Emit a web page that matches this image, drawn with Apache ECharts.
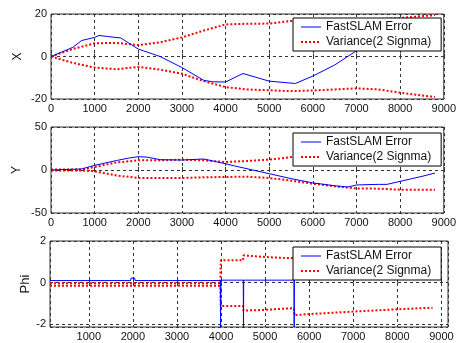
<!DOCTYPE html>
<html><head><meta charset="utf-8">
<script src="https://cdn.jsdelivr.net/npm/echarts@6/dist/echarts.min.js"></script>
<style>html,body{margin:0;padding:0;background:#fff}#c{width:459px;height:343px}</style>
</head><body><div id="c"></div>
<script>
const seriesNames = ['FastSLAM Error', 'Variance(2 Signma)'];
const axisNames = ['X', 'Y', 'Phi'];

// Panel 1 (X)
const xErrT = [0, 500, 700, 1000, 1100, 1300, 1600, 2000, 2500, 3000, 3500, 3700, 4000, 4100, 4400, 5000, 5600, 6000, 6500, 7000, 7500, 8000, 8800];
const xErr  = [0, 4.3, 7.5, 9, 9.9, 9.4, 8.7, 3.5, 0, -5.2, -11.2, -11.9, -12, -11, -8, -11.6, -12.7, -9.2, -4, 2.7, 6, 9, 12];
const xVarT = [0, 500, 1000, 1500, 2000, 2500, 3000, 3500, 4000, 4500, 5000, 5500, 6000, 6500, 7000, 7500, 8000, 8500, 8800];
const xVarUp = [0, 3.5, 6.2, 6.4, 5.4, 6.7, 9, 12.2, 15.1, 15.4, 15.5, 16.7, 17, 17.2, 17.4, 17.6, 18.1, 19, 19.4];
const xVarLo = [0, -3, -5.2, -6, -4.9, -6.2, -8.1, -11.6, -14.4, -15.5, -15.9, -16.3, -16, -15.5, -15, -15.5, -17, -18.4, -19];

// Panel 2 (Y)
const yErrT = [0, 700, 1000, 1500, 1800, 2000, 2200, 2500, 3000, 3500, 4000, 4200, 5000, 5500, 6000, 6500, 6800, 7000, 7500, 7700, 8000, 8500, 8800];
const yErr  = [0, 1.2, 5.4, 11, 14, 15.5, 15, 12, 11.6, 12.8, 7.3, 4.8, -4.3, -10, -15, -18.3, -19.8, -17.4, -16.7, -16.7, -13.2, -7.4, -3.5];
const yVarT = [0, 700, 1000, 1500, 2000, 2500, 3000, 3500, 4000, 4500, 5000, 5500, 6000, 6500, 7000, 7500, 8000, 8500, 8800];
const yVarUp = [0.5, 0.5, 3.5, 8.8, 11.2, 11.2, 12, 11.2, 9.3, 10.5, 12, 15, 17, 18, 19, 20, 21, 22, 22.5];
const yVarLo = [-0.5, -0.5, -1.6, -6.3, -9.3, -9.3, -9.3, -8.5, -8.1, -7.8, -9.3, -12.4, -16, -19, -21.4, -21.7, -22.9, -22.9, -22.9];

// Panel 3 (Phi)
const phiErrT = [120, 1950, 1960, 2040, 2050, 3985, 3990, 3995, 4505, 4510, 4515, 5655, 5660, 5665, 8800];
const phiErr  = [0.1, 0.1, 0.22, 0.22, 0.1, 0.1, -2.13, 0.12, 0.12, -2.13, 0.12, 0.12, -2.13, 0.17, 0.17];
const phiVarT = [120, 1000, 2000, 3000, 3985, 3995, 4500, 4510, 5000, 5500, 5655, 5665, 6000, 7000, 8000, 8800];
const phiVarUp = [-0.03, -0.03, -0.03, -0.03, -0.03, 1.07, 1.07, 1.31, 1.23, 1.18, 1.18, 1.5, 1.5, 1.45, 1.4, 1.35];
const phiVarLo = [-0.15, -0.15, -0.15, -0.15, -0.15, -1.12, -1.12, -1.34, -1.31, -1.24, -1.23, -1.56, -1.51, -1.39, -1.28, -1.2];

const pairs = (xs, ys) => xs.map((x, i) => [x, ys[i]]);
const FONT = 'Liberation Sans, Arial, sans-serif';
const BORDER = '#333';

const grids = [
  {left: 51, right: 11, top: 14, height: 85},
  {left: 51, right: 11, top: 127, height: 86},
  {left: 50, right: 11, top: 241, height: 86}
].map(g => Object.assign({show: true, borderColor: BORDER, borderWidth: 1, backgroundColor: '#fff', containLabel: false}, g));

const splitLine = {show: true, lineStyle: {color: '#333', type: [3, 3], width: 1}};
const axisLabel = {color: '#111', fontSize: 11, fontFamily: FONT, margin: 4, formatter: v => String(v)};

function xAxis(i, extra) {
  return Object.assign({
    type: 'value', gridIndex: i,
    axisLine: {show: false},
    axisTick: {show: true, inside: true, length: 3, lineStyle: {color: BORDER}},
    splitLine: splitLine,
    axisLabel: axisLabel
  }, extra);
}
function yAxis(i, extra) {
  return Object.assign({
    type: 'value', gridIndex: i,
    name: axisNames[i], nameLocation: 'middle', nameRotate: 90, nameMoveOverlap: false,
    nameTextStyle: {color: '#111', fontSize: i === 2 ? 13 : 12, fontFamily: FONT},
    axisLine: {show: false},
    axisTick: {show: true, inside: true, length: 3, lineStyle: {color: BORDER}},
    splitLine: splitLine,
    axisLabel: axisLabel
  }, extra);
}

function errSeries(i, xs, ys) {
  return {type: 'line', name: seriesNames[0], xAxisIndex: i, yAxisIndex: i, data: pairs(xs, ys),
    symbol: 'none', color: '#0000ff', lineStyle: {color: '#0000ff', width: 1}, z: 3};
}
function varSeries(i, xs, ys) {
  return {type: 'line', name: seriesNames[1], xAxisIndex: i, yAxisIndex: i, data: pairs(xs, ys),
    symbol: 'none', color: '#ff0000', lineStyle: {color: '#ff0000', width: 2, type: [2, 2]}, z: 2};
}
const hiddenSym = {color: 'rgba(0,0,0,0)', borderWidth: 0, opacity: 0};
function legend(top) {
  return {
    left: 293, top: top, orient: 'vertical', selectedMode: false,
    itemWidth: 20, itemHeight: 12, itemGap: 3, padding: [3, 10, 3, 7],
    backgroundColor: '#fff', borderColor: '#000', borderWidth: 1, borderRadius: 0,
    textStyle: {color: '#111', fontSize: 12, fontFamily: FONT},
    data: [
      {name: seriesNames[0], itemStyle: hiddenSym, lineStyle: {width: 1, color: '#0000ff', opacity: 1}},
      {name: seriesNames[1], itemStyle: hiddenSym, lineStyle: {width: 2, color: '#ff0000', type: [2, 2], opacity: 1}}
    ],
    z: 10
  };
}

const chart = echarts.init(document.getElementById('c'), null, {renderer: 'canvas'});
chart.setOption({
  animation: false,
  backgroundColor: '#fff',
  grid: grids,
  legend: [legend(18), legend(133), legend(247)],
  xAxis: [
    xAxis(0, {min: 0, max: 9000, interval: 1000}),
    xAxis(1, {min: 0, max: 9000, interval: 1000}),
    xAxis(2, {min: 120, max: 9150, splitNumber: 9, axisLabel: Object.assign({}, axisLabel, {showMinLabel: false, showMaxLabel: false})})
  ],
  yAxis: [
    yAxis(0, {min: -20, max: 20, interval: 20, nameGap: 27}),
    yAxis(1, {min: -50, max: 50, interval: 50, nameGap: 28}),
    yAxis(2, {min: -2.13, max: 2, splitNumber: 2, nameGap: 18, axisLabel: Object.assign({}, axisLabel, {showMinLabel: false})})
  ],
  series: [
    varSeries(0, xVarT, xVarUp), varSeries(0, xVarT, xVarLo), errSeries(0, xErrT, xErr),
    varSeries(1, yVarT, yVarUp), varSeries(1, yVarT, yVarLo), errSeries(1, yErrT, yErr),
    varSeries(2, phiVarT, phiVarUp), varSeries(2, phiVarT, phiVarLo), errSeries(2, phiErrT, phiErr)
  ]
});
</script>
</body></html>
